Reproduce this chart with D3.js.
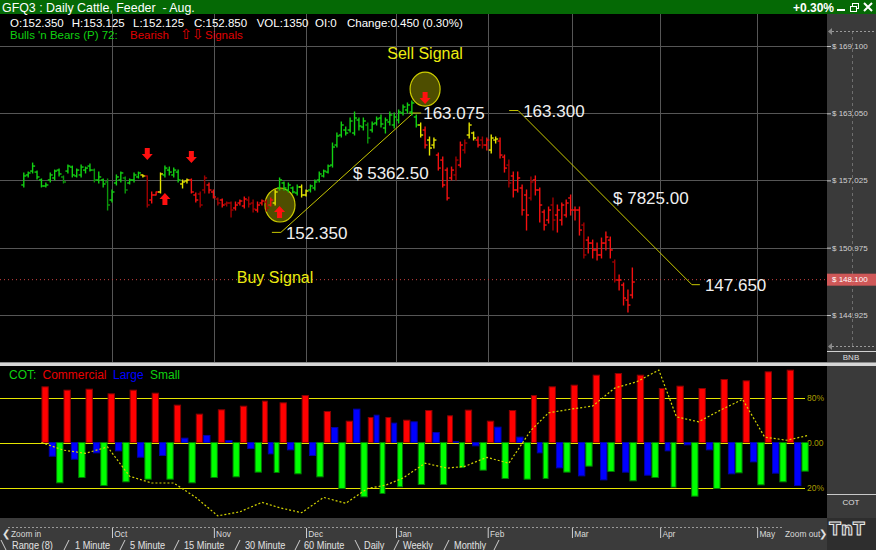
<!DOCTYPE html>
<html><head><meta charset="utf-8">
<script src="https://cdn.jsdelivr.net/npm/d3@7"></script>
<style>
html,body{margin:0;padding:0;background:#000;overflow:hidden}
svg{display:block;font-family:Arial,"Liberation Sans",sans-serif}
</style></head><body>
<svg id="c" width="876" height="550"></svg>
<script>
// ---------- DATA ----------
const months = ["Oct","Nov","Dec","Jan","Feb","Mar","Apr","May"];
const monthIdx = [20, 43.1, 64, 84.4, 105.2, 124.3, 144.3, 166.3];
const priceTicks = [169.100, 163.050, 157.025, 150.975, 144.925];
const lastPrice = 148.100;

const barHigh = [157.69,157.77,158.58,157.86,157.15,156.79,157.69,157.95,158.04,157.42,
158.40,158.31,158.04,158.40,158.22,158.49,158.04,157.77,157.15,157.15,
156.16,157.51,157.77,157.33,157.15,157.69,157.77,157.51,157.42,155.98,
155.98,157.69,158.31,158.22,158.13,157.95,157.06,157.15,157.15,155.89,
155.98,157.42,156.79,156.16,155.44,155.35,155.08,155.08,155.08,155.26,
155.53,155.53,155.26,155.08,155.26,155.26,155.44,156.16,157.24,156.88,
156.79,156.43,156.61,156.61,156.16,156.61,157.06,157.77,157.95,158.40,
160.38,161.28,162.27,161.82,162.63,163.17,162.63,162.63,162.18,162.27,
162.72,162.90,162.63,163.17,163.08,163.35,163.80,163.98,164.16,
162.90,162.18,161.82,160.92,160.83,159.48,159.12,158.13,158.22,159.12,
160.47,160.65,162.18,161.37,160.92,160.92,160.83,161.10,160.92,160.83,
159.30,158.85,157.77,157.77,156.61,156.16,157.33,157.42,156.34,154.36,
154.63,155.44,154.81,154.99,155.26,155.71,154.63,154.63,153.19,151.93,
151.66,151.39,151.84,152.38,151.93,149.87,148.52,147.80,147.17,149.15];
const barLow = [156.43,157.33,157.69,157.15,156.43,156.43,156.88,157.06,157.42,156.79,
157.69,157.33,157.33,157.33,157.69,157.86,156.88,156.79,156.43,154.36,
155.08,156.61,156.88,155.89,156.70,156.88,157.24,157.33,154.63,154.99,
155.71,155.89,157.33,157.51,157.33,156.88,156.34,156.79,155.89,155.08,
154.63,155.89,155.89,155.44,154.81,154.63,154.72,153.73,154.36,154.81,
154.54,154.63,154.18,154.18,154.81,154.27,154.72,154.81,156.16,156.16,
155.98,155.89,155.71,155.53,155.62,155.98,156.16,156.88,157.33,157.69,
158.22,160.02,160.92,161.10,161.37,161.10,161.55,161.55,160.38,161.37,
162.00,161.82,161.28,162.00,161.73,162.18,162.90,163.08,162.90,
161.82,160.92,159.93,159.30,159.93,157.95,156.43,155.26,157.06,157.06,
158.22,159.48,160.83,160.65,160.02,159.93,159.75,159.48,160.38,159.03,
157.77,156.43,155.53,155.98,153.91,152.56,155.26,155.71,153.28,152.56,
153.19,152.56,152.38,153.01,153.73,153.91,153.46,152.11,150.05,150.50,
150.05,149.87,150.05,150.77,150.05,147.89,147.17,145.82,145.19,146.45];
const barOpen = [156.61,157.51,157.86,157.77,157.06,156.52,157.06,157.24,157.95,157.33,
157.86,158.22,157.42,157.51,157.95,158.31,157.95,157.06,157.06,156.88,
155.26,156.79,157.06,157.24,156.79,157.06,157.33,157.51,157.42,155.26,
155.71,155.98,157.51,157.95,157.51,157.77,156.70,156.97,157.06,155.71,
155.80,156.16,156.61,155.98,155.35,155.26,154.90,154.99,154.54,154.99,
154.72,155.26,154.99,154.36,154.99,155.08,154.81,154.99,156.34,156.79,
156.16,156.34,155.89,156.43,155.71,156.16,156.34,157.06,157.42,157.77,
158.40,160.20,161.10,161.55,161.55,161.28,162.45,161.82,162.00,161.55,
162.18,162.63,161.73,162.27,162.00,162.45,163.08,163.35,163.17,
162.72,162.00,161.55,160.65,160.20,159.30,158.85,157.95,157.24,157.51,
158.40,159.75,161.10,161.28,160.65,160.65,160.20,159.75,160.65,160.56,
159.12,158.40,157.42,156.16,156.34,155.71,155.44,157.06,156.16,154.18,
153.46,154.81,153.91,153.46,153.91,155.44,154.36,154.36,153.01,151.66,
151.39,150.77,150.32,151.39,151.66,149.69,148.07,147.62,146.27,146.72];
const barClose = [157.42,157.69,158.31,157.33,156.52,156.61,157.51,157.86,157.60,156.88,
158.31,157.51,157.95,158.22,158.13,157.95,157.06,157.33,156.70,154.81,
155.98,157.33,157.69,156.16,157.06,157.51,157.69,157.42,154.81,155.71,
155.98,157.60,158.13,157.77,157.95,157.06,156.88,157.06,155.98,155.26,
154.81,157.24,156.16,155.53,154.99,154.81,154.99,154.36,154.81,155.17,
155.35,154.90,154.45,154.81,155.17,154.54,155.26,155.98,157.06,156.34,
156.61,155.98,156.43,155.71,156.07,156.52,156.88,157.60,157.86,158.31,
160.02,161.01,162.00,161.28,162.36,162.63,161.91,162.36,160.83,162.09,
162.54,162.09,162.45,162.90,162.72,163.17,163.62,163.80,163.98,
162.00,161.10,160.20,159.93,160.65,158.13,156.61,155.44,157.95,158.85,
160.20,160.38,162.00,160.83,160.20,160.20,160.65,160.83,160.74,159.30,
158.13,156.79,156.16,157.24,154.36,153.91,156.88,156.16,154.81,153.01,
154.36,153.46,154.36,154.81,154.99,154.36,154.36,152.56,150.32,151.39,
150.77,150.32,151.39,151.93,150.77,148.07,148.07,146.45,145.82,147.89];
// Bulls 'n Bears state per bar: g strong bull, d bull, y neutral, r bear, R strong bear
const barState = ("gggggggggd"+"ggggggdggd"+"gggdgggyRr"+"ryggggyyrr"+"RRrrRrRRrr"+
  "rRRrrRrygg"+"gggyyggggg"+"ggggggggdg"+"ggggggggg"+"gyryyrrrrR"+"rRyyrRryyr"+
  "rRrrrrRrrr"+"rRrrrrrrRr"+"rrrrrRrrrr").split("");

const signalIdx = [28, 32, 38, 58, 91];
const signalTop = [159.93, 155.89, 159.66, 154.72, 164.97];
const signalDir = ["down", "up", "down", "up", "down"];
const circleIdx = [58.1, 91];
const circlePrice = [154.81, 165.23];
const circleLabel = ["Buy Signal", "Sell Signal"];

const tradeStartIdx = [58.3, 112.1];
const tradeStartPrice = [152.350, 163.300];
const tradeEndIdx = [88.3, 151.5];
const tradeEndPrice = [163.075, 147.650];
const tradeResult = ["$ 5362.50", "$ 7825.00"];

const cotIdx = [4,9,14,19,24,29,34,39,44,49,54,58,63,68,73,78,82,86,91,96,100,105,110,115,119,124,129,134,139,144,148,153,158,163,168,173,178];
const commercial = [1.237,1.163,1.185,1.081,1.163,1.096,0.830,0.630,0.726,0.807,0.919,0.881,1.044,0.689,0.474,0.556,0.556,0.496,0.711,
  0.593,0.719,0.474,0.711,1.044,1.237,1.274,1.496,1.533,1.496,1.200,1.252,1.200,1.400,1.370,1.570,1.607];
const large = [-0.304,-0.370,-0.230,-0.185,-0.326,-0.289,0.096,0.156,0.044,-0.133,-0.252,-0.163,-0.289,0.333,0.741,0.607,0.430,0.459,0.222,
  0.020,-0.074,0.341,0.119,-0.230,-0.563,-0.741,-0.830,-0.659,-0.726,-0.185,-0.052,-0.163,-0.696,-0.430,-0.681,-0.956];
const small = [-0.896,-0.778,-0.956,-0.874,-0.815,-0.815,-0.896,-0.778,-0.763,-0.659,-0.667,-0.696,-0.763,-1.022,-1.207,-1.133,-0.985,-0.933,-0.933,
  -0.556,-0.615,-0.800,-0.815,-0.800,-0.659,-0.526,-0.644,-0.852,-0.778,-0.993,-1.193,-1.022,-0.674,-0.941,-0.874,-0.637];
const cotIndexLine = [0,-0.17,-0.24,-0.10,-0.75,-0.90,-0.90,-1.22,-1.63,-1.54,-1.33,-1.45,-1.56,-1.22,-1.35,-1.02,-0.95,-0.79,-0.46,-0.57,
  -0.53,-0.33,-0.46,0.27,0.66,0.74,0.81,1.21,1.35,1.61,0.57,0.46,0.72,0.96,0.12,0.05,0.16];
const cotLevels = [1, 0, -1];
const cotLevelLabels = ["80%", "0.00", "20%"];

const infoItems = ["O:152.350","H:153.125","L:152.125","C:152.850","VOL:1350","OI:0","Change:0.450 (0.30%)"];
const tabLabels = ["Range (8)","1 Minute","5 Minute","15 Minute","30 Minute","60 Minute","Daily","Weekly","Monthly"];

// ---------- SCALES ----------
const W = 876, H = 550, PR = 827;
const x = d3.scaleLinear().domain([0, 173]).range([23.8, 786.7]);
const y = d3.scaleLinear().domain([144.925, 169.1]).range([315, 46]);
const yc = d3.scaleLinear().domain([-1, 1]).range([487.5, 397.5]);
const stateColor = d3.scaleOrdinal().domain(["g","d","y","r","R"])
  .range(["#12d012","#0b960b","#e4e400","#f41010","#a00000"]);

const svg = d3.select("#c");
svg.append("rect").attr("width", W).attr("height", H).attr("fill", "#000");

// title bar
svg.append("rect").attr("width", W).attr("height", 14).attr("fill", "#056905");
svg.append("text").attr("x", 2).attr("y", 11.5).attr("fill", "#fff").attr("font-size", 12.4)
  .style("white-space", "pre").text("GFQ3 : Daily Cattle, Feeder  - Aug.");
svg.append("text").attr("x", 793).attr("y", 11.5).attr("fill", "#fff").attr("font-size", 12)
  .attr("font-weight", "bold").text("+0.30%");
svg.append("rect").attr("x", 837).attr("y", 9).attr("width", 8).attr("height", 2).attr("fill", "#fff");
svg.append("rect").attr("x", 852.5).attr("y", 3.5).attr("width", 6).attr("height", 5).attr("fill", "none").attr("stroke", "#fff");
svg.append("rect").attr("x", 850.5).attr("y", 6.5).attr("width", 6).attr("height", 5).attr("fill", "#056905").attr("stroke", "#fff");
svg.append("path").attr("d", "M864,3L872,11M872,3L864,11").attr("stroke", "#fff").attr("stroke-width", 2);

// main panel clip
svg.append("clipPath").attr("id", "mc").append("rect").attr("x", 0).attr("y", 14).attr("width", PR).attr("height", 348);
const main = svg.append("g").attr("clip-path", "url(#mc)");

// grid
main.selectAll("line.hg").data(priceTicks).join("line").attr("class", "hg")
  .attr("x1", 0).attr("x2", PR).attr("y1", d => Math.round(y(d)) + 0.5).attr("y2", d => Math.round(y(d)) + 0.5)
  .attr("stroke", "#565656");
main.selectAll("line.vg").data(monthIdx).join("line").attr("class", "vg")
  .attr("x1", d => Math.round(x(d)) + 0.5).attr("x2", d => Math.round(x(d)) + 0.5).attr("y1", 14).attr("y2", 362)
  .attr("stroke", "#565656");
// last price dotted
main.append("line").attr("x1", 0).attr("x2", PR).attr("y1", y(lastPrice)).attr("y2", y(lastPrice))
  .attr("stroke", "#c84040").attr("stroke-dasharray", "1,3");

// info lines
const infoX = [10, 71.7, 133, 194, 256.7, 315, 347];
svg.selectAll("text.info").data(infoItems).join("text").attr("class", "info")
  .attr("x", (d, i) => infoX[i]).attr("y", 26.5).attr("fill", "#fff").attr("font-size", 11.5).text(d => d);
const l2 = svg.append("text").attr("y", 39).attr("font-size", 11.5);
l2.append("tspan").attr("x", 10).attr("fill", "#10d010").text("Bulls 'n Bears (P) 72:");
l2.append("tspan").attr("x", 130).attr("fill", "#e00000").text("Bearish");
l2.append("tspan").attr("x", 180).attr("fill", "#e00000").attr("font-family", "DejaVu Sans").attr("font-size", 14).text("⇧⇩");
l2.append("tspan").attr("x", 205).attr("fill", "#e00000").attr("font-size", 11.5).attr("font-family", "Arial, 'Liberation Sans', sans-serif").text("Signals");

// signal circles
main.selectAll("ellipse.sig").data(circleIdx).join("ellipse").attr("class", "sig")
  .attr("cx", d => x(d)).attr("cy", (d, i) => y(circlePrice[i])).attr("rx", 15).attr("ry", 17)
  .attr("fill", "#4e4e00").attr("stroke", "#cccc00").attr("stroke-width", 1.2);
svg.selectAll("text.sigl").data(circleLabel).join("text").attr("class", "sigl")
  .attr("x", (d, i) => x(circleIdx[i]) + (i === 0 ? -5 : 0))
  .attr("y", (d, i) => y(circlePrice[i]) + (i === 0 ? 78 : -30))
  .attr("text-anchor", "middle").attr("fill", "#ecec10").attr("font-size", 16).text(d => d);

// trade lines
const trade = main.append("g").attr("stroke", "#c8c800").attr("stroke-width", 1).attr("fill", "none");
tradeStartIdx.forEach((s, i) => {
  const x0 = x(s), y0 = y(tradeStartPrice[i]), x1 = x(tradeEndIdx[i]), y1 = y(tradeEndPrice[i]);
  trade.append("path").attr("d", `M${x0 - 9},${y0}H${x0}L${x1},${y1}M${x1 - (i === 0 ? 4 : 0)},${y1}H${x1 + 8}`);
  svg.append("text").attr("x", x0 + 5).attr("y", y0).attr("dy", "0.36em").attr("fill", "#f0f0f0").attr("font-size", 17)
    .text(d3.format(".3f")(tradeStartPrice[i]));
  svg.append("text").attr("x", x1 + (i === 0 ? 10 : 13)).attr("y", y1).attr("dy", "0.36em").attr("fill", "#f0f0f0").attr("font-size", 17)
    .text(d3.format(".3f")(tradeEndPrice[i]));
  svg.append("text").attr("x", (x0 + x1) / 2 + (i === 0 ? 6 : 8)).attr("y", (y0 + y1) / 2).attr("dy", "0.36em")
    .attr("fill", "#f0f0f0").attr("font-size", 17).text(tradeResult[i]);
});

// OHLC bars
const bars = main.append("g").selectAll("g").data(d3.range(barHigh.length)).join("g")
  .attr("stroke", i => stateColor(barState[i])).attr("stroke-width", 1.4);
bars.append("line").attr("x1", i => x(i)).attr("x2", i => x(i))
  .attr("y1", i => y(barHigh[i]) - 0.5).attr("y2", i => y(barLow[i]) + 0.5);
bars.append("line").attr("x1", i => x(i) - 2.5).attr("x2", i => x(i))
  .attr("y1", i => y(barOpen[i])).attr("y2", i => y(barOpen[i]));
bars.append("line").attr("x1", i => x(i)).attr("x2", i => x(i) + 2.5)
  .attr("y1", i => y(barClose[i])).attr("y2", i => y(barClose[i]));

// arrows
main.selectAll("path.arr").data(signalIdx).join("path").attr("class", "arr")
  .attr("transform", (d, i) => `translate(${x(d)},${y(signalTop[i])})`)
  .attr("d", (d, i) => signalDir[i] === "down" ? "M-2.5,0H2.5V6H5.5L0,12L-5.5,6H-2.5Z" : "M0,0L5.5,6H2.5V12H-2.5V6H-5.5Z")
  .attr("fill", "#ff1010");

// price axis panel
svg.append("rect").attr("x", PR).attr("y", 14).attr("width", W - PR).attr("height", 348).attr("fill", "#3a3a3a");
svg.append("line").attr("x1", 852.5).attr("x2", 852.5).attr("y1", 31).attr("y2", 346).attr("stroke", "#6e6e6e").attr("stroke-dasharray", "3,3");
[31, 346].forEach(v => {
  svg.append("line").attr("x1", 832).attr("x2", W).attr("y1", v + 0.5).attr("y2", v + 0.5).attr("stroke", "#9a9a9a").attr("stroke-dasharray", "2,2");
  svg.append("path").attr("d", `M828,${v + 0.5}L832,${v - 3}V${v + 4}Z`).attr("fill", "#8a8a8a");
});
svg.append("line").attr("x1", PR).attr("x2", W).attr("y1", 351.5).attr("y2", 351.5).attr("stroke", "#d0d0d0");
svg.append("text").attr("x", 851).attr("y", 360).attr("text-anchor", "middle").attr("fill", "#dedede").attr("font-size", 8).text("BNB");

const pAxis = svg.append("g").attr("transform", `translate(${PR},0)`)
  .call(d3.axisRight(y).tickValues(priceTicks).tickSize(4).tickPadding(1).tickFormat(d => "$ " + d3.format(".3f")(d)));
pAxis.attr("font-family", "Arial, 'Liberation Sans', sans-serif").attr("font-size", 8);
pAxis.select(".domain").remove();
pAxis.selectAll("line").attr("stroke", "#c8c8c8");
pAxis.selectAll("text").attr("fill", "#d2d2d2");

svg.append("rect").attr("x", PR).attr("y", y(lastPrice) - 6).attr("width", W - PR).attr("height", 12).attr("fill", "#cf5858");
svg.append("text").attr("x", 832).attr("y", y(lastPrice)).attr("dy", "0.32em").attr("fill", "#fff").attr("font-size", 8)
  .text("$ " + d3.format(".3f")(lastPrice));

// separator
svg.append("rect").attr("x", 0).attr("y", 362).attr("width", W).attr("height", 4).attr("fill", "#d6d6d6");
svg.append("line").attr("x1", 0).attr("x2", W).attr("y1", 362.5).attr("y2", 362.5).attr("stroke", "#8c8c8c");

// COT panel
svg.append("rect").attr("x", PR).attr("y", 366).attr("width", W - PR).attr("height", 152).attr("fill", "#3a3a3a");
svg.append("line").attr("x1", PR).attr("x2", W).attr("y1", 494.5).attr("y2", 494.5).attr("stroke", "#c8c8c8");
svg.append("text").attr("x", 851).attr("y", 505).attr("text-anchor", "middle").attr("fill", "#e0e0e0").attr("font-size", 8).text("COT");

const leg = svg.append("text").attr("y", 379).attr("font-size", 12);
leg.append("tspan").attr("x", 9).attr("fill", "#10d010").text("COT:");
leg.append("tspan").attr("x", 42.5).attr("fill", "#e80000").text("Commercial");
leg.append("tspan").attr("x", 113).attr("fill", "#0000ff").text("Large");
leg.append("tspan").attr("x", 150).attr("fill", "#10d010").text("Small");

svg.selectAll("line.lev").data(cotLevels).join("line").attr("class", "lev")
  .attr("x1", 0).attr("x2", 805).attr("y1", d => Math.round(yc(d)) + 0.5).attr("y2", d => Math.round(yc(d)) + 0.5)
  .attr("stroke", "#e6e600");
const cAxis = svg.append("g").attr("transform", "translate(805,0)")
  .call(d3.axisRight(yc).tickValues(cotLevels).tickSize(0).tickPadding(2).tickFormat((d, i) => cotLevelLabels[i]));
cAxis.attr("font-family", "Arial, 'Liberation Sans', sans-serif").attr("font-size", 8.5);
cAxis.select(".domain").remove();
cAxis.selectAll("text").attr("fill", "#a89c00");

const weeks = d3.range(commercial.length);
const gx = i => x(cotIdx[i]);
const gw = i => (x(cotIdx[i + 1]) - x(cotIdx[i])) / 3;
const cot = svg.append("g");
const seriesDefs = [[commercial, "#ff0000", "#8a0000"], [large, "#0000ff", "#0000a8"], [small, "#00ff00", "#007a00"]];
seriesDefs.forEach(([vals, fill, stroke], k) => {
  cot.append("g").selectAll("rect").data(weeks).join("rect")
    .attr("x", i => gx(i) + k * gw(i) + 0.5)
    .attr("width", i => Math.max(0, gw(i) - 1))
    .attr("y", i => Math.min(yc(vals[i]), yc(0)))
    .attr("height", i => Math.abs(yc(vals[i]) - yc(0)))
    .attr("fill", fill).attr("stroke", stroke).attr("stroke-width", 1);
});
cot.append("path").datum(d3.range(cotIndexLine.length))
  .attr("d", d3.line().x(i => x(cotIdx[i])).y(i => yc(cotIndexLine[i])))
  .attr("fill", "none").attr("stroke", "#d4d400").attr("stroke-width", 1.2).attr("stroke-dasharray", "2,2");

// bottom strip
svg.append("rect").attr("x", 0).attr("y", 518).attr("width", W).attr("height", 32).attr("fill", "#3b3b3b");
svg.append("rect").attr("x", PR).attr("y", 518).attr("width", W - PR).attr("height", 32).attr("fill", "#2e2e2e");
svg.append("line").attr("x1", 8).attr("x2", 782).attr("y1", 527.5).attr("y2", 527.5).attr("stroke", "#9a9a9a").attr("stroke-dasharray", "2,2");
svg.append("text").attr("x", 847).attr("y", 535).attr("text-anchor", "middle").attr("font-family", "DejaVu Sans")
  .attr("font-weight", "bold").attr("font-size", 17).attr("fill", "#4a4a4a").attr("stroke", "#ececec").attr("stroke-width", 1).text("TnT");

function narrowText(s, tx, ty, size, sx, color) {
  svg.append("text").attr("transform", `translate(${tx},${ty}) scale(${sx},1)`).attr("font-size", size).attr("fill", color).text(s);
}
narrowText("❮", 2, 537, 10, 1, "#e0e0e0");
narrowText("Zoom in", 11, 537, 9.5, 0.88, "#dadada");
narrowText("Zoom out", 785, 537, 9.5, 0.88, "#dadada");
narrowText("❯", 819, 537, 10, 1, "#e0e0e0");

const mAxis = svg.append("g").attr("transform", "translate(0,528)")
  .call(d3.axisBottom(x).tickValues(monthIdx).tickSize(10).tickFormat((d, i) => months[i]));
mAxis.attr("font-family", "Arial, 'Liberation Sans', sans-serif").attr("font-size", 9.5);
mAxis.select(".domain").remove();
mAxis.selectAll("line").attr("stroke", "#cfcfcf");
mAxis.selectAll("text").attr("fill", "#dadada").attr("text-anchor", "start").attr("dy", 0)
  .attr("y", 9).attr("x", 2).attr("transform", "scale(0.88,1)");

// tabs
const tabX = [12, 75, 130, 184, 245, 304, 364, 403, 454];
const sepX = [1, 64, 120, 174, 235, 295, 355, 394, 444, 494];
const sepBack = [true, false, false, false, false, false, true, false, false, false];
sepX.forEach((sx, i) => {
  svg.append("line").attr("x1", sepBack[i] ? sx : sx + 5).attr("x2", sepBack[i] ? sx + 5 : sx)
    .attr("y1", 540).attr("y2", 550).attr("stroke", "#cfcfcf");
});
tabLabels.forEach((t, i) => narrowText(t, tabX[i], 548.5, 10, 0.92, "#e2e2e2"));
</script>
</body></html>
